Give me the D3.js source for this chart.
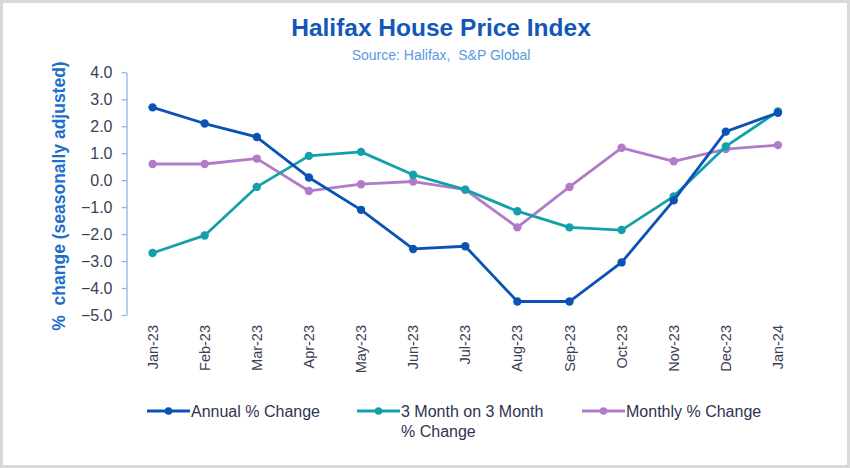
<!DOCTYPE html>
<html><head><meta charset="utf-8">
<script src="https://cdn.jsdelivr.net/npm/d3@7"></script>
<style>body{margin:0;background:#fff}svg{display:block}text{font-family:"Liberation Sans",Arial,sans-serif}</style>
</head><body><svg id="c" width="850" height="468"></svg>
<script>
const months = ["Jan-23","Feb-23","Mar-23","Apr-23","May-23","Jun-23","Jul-23","Aug-23","Sep-23","Oct-23","Nov-23","Dec-23","Jan-24"];
const annual = [2.7, 2.1, 1.6, 0.1, -1.1, -2.55, -2.45, -4.5, -4.5, -3.05, -0.75, 1.8, 2.5];
const threeMonth = [-2.7, -2.05, -0.25, 0.9, 1.05, 0.2, -0.35, -1.15, -1.75, -1.85, -0.6, 1.25, 2.55];
const monthly = [0.6, 0.6, 0.8, -0.4, -0.15, -0.05, -0.35, -1.75, -0.25, 1.2, 0.7, 1.15, 1.3];
const yTicks = [4, 3, 2, 1, 0, -1, -2, -3, -4, -5];
const seriesNames = ["Annual % Change", "3 Month on 3 Month\n% Change", "Monthly % Change"];
const colors = ["#0b52b5", "#14a0aa", "#b07cc9"];

const svg = d3.select("#c");
svg.append("rect").attr("x",1.5).attr("y",1.5).attr("width",847).attr("height",465)
  .attr("fill","#fff").attr("stroke","#d9d9d9").attr("stroke-width",3);

const x = d3.scaleBand().domain(months).range([126.5, 804]);
const y = d3.scaleLinear().domain([-5, 4]).range([315, 72.3]);

svg.append("text").attr("x",441).attr("y",36).attr("text-anchor","middle")
  .attr("font-size",24.5).attr("font-weight","bold").attr("fill","#1358b8").text("Halifax House Price Index");
svg.append("text").attr("x",441).attr("y",60).attr("text-anchor","middle")
  .attr("font-size",14).attr("fill","#5a9be0").attr("xml:space","preserve").text("Source: Halifax,  S&P Global");

const ya = svg.append("g").attr("transform","translate(126.5,0)")
  .call(d3.axisLeft(y).tickValues(yTicks).tickFormat(d3.format(".1f")).tickSize(5).tickSizeOuter(0));
ya.select(".domain").attr("stroke","#8ab6ea").attr("stroke-width",1.3);
ya.selectAll(".tick line").attr("stroke","#8ab6ea").attr("stroke-width",1.3);
ya.selectAll(".tick text").attr("font-size",16).attr("fill","#3b3f55").attr("x",-14)
  .attr("font-family","'Liberation Sans',Arial,sans-serif");

const xa = svg.append("g").attr("transform","translate(0,315)")
  .call(d3.axisBottom(x).tickSize(0).tickSizeOuter(0));
xa.select(".domain").remove();
xa.selectAll(".tick text").attr("font-size",14.5).attr("fill","#3b3f55")
  .attr("transform","rotate(-90)").attr("text-anchor","end").attr("x",-10).attr("y",0).attr("dy","0.35em")
  .attr("font-family","'Liberation Sans',Arial,sans-serif");

svg.append("text").attr("transform","translate(65,196) rotate(-90)").attr("text-anchor","middle")
  .attr("font-size",17.5).attr("font-weight","bold").attr("fill","#1a6fc9").attr("xml:space","preserve")
  .text("%  change (seasonally adjusted)");

const data = [annual, threeMonth, monthly];
const line = d3.line().x((d,i)=>x(months[i])+x.bandwidth()/2).y(d=>y(d));
const drawOrder = [2,1,0];
drawOrder.forEach(k=>{
  svg.append("path").datum(data[k]).attr("d",line).attr("fill","none")
    .attr("stroke",colors[k]).attr("stroke-width",2.8).attr("stroke-linejoin","round");
  svg.selectAll(null).data(data[k]).enter().append("circle")
    .attr("cx",(d,i)=>x(months[i])+x.bandwidth()/2).attr("cy",d=>y(d)).attr("r",4.2).attr("fill",colors[k]);
});

const legX = [147, 357, 582];
seriesNames.forEach((n,k)=>{
  const g = svg.append("g").attr("transform",`translate(${legX[k]},411)`);
  g.append("line").attr("x1",0).attr("x2",43).attr("stroke",colors[k]).attr("stroke-width",2.8);
  g.append("circle").attr("cx",21.5).attr("r",3.8).attr("fill",colors[k]);
  const t = g.append("text").attr("x",44).attr("y",0).attr("font-size",16).attr("fill","#2f3350");
  n.split("\n").forEach((s,j)=>t.append("tspan").attr("x",44).attr("dy", j===0?"0.35em":"1.25em").text(s));
});
</script></body></html>
